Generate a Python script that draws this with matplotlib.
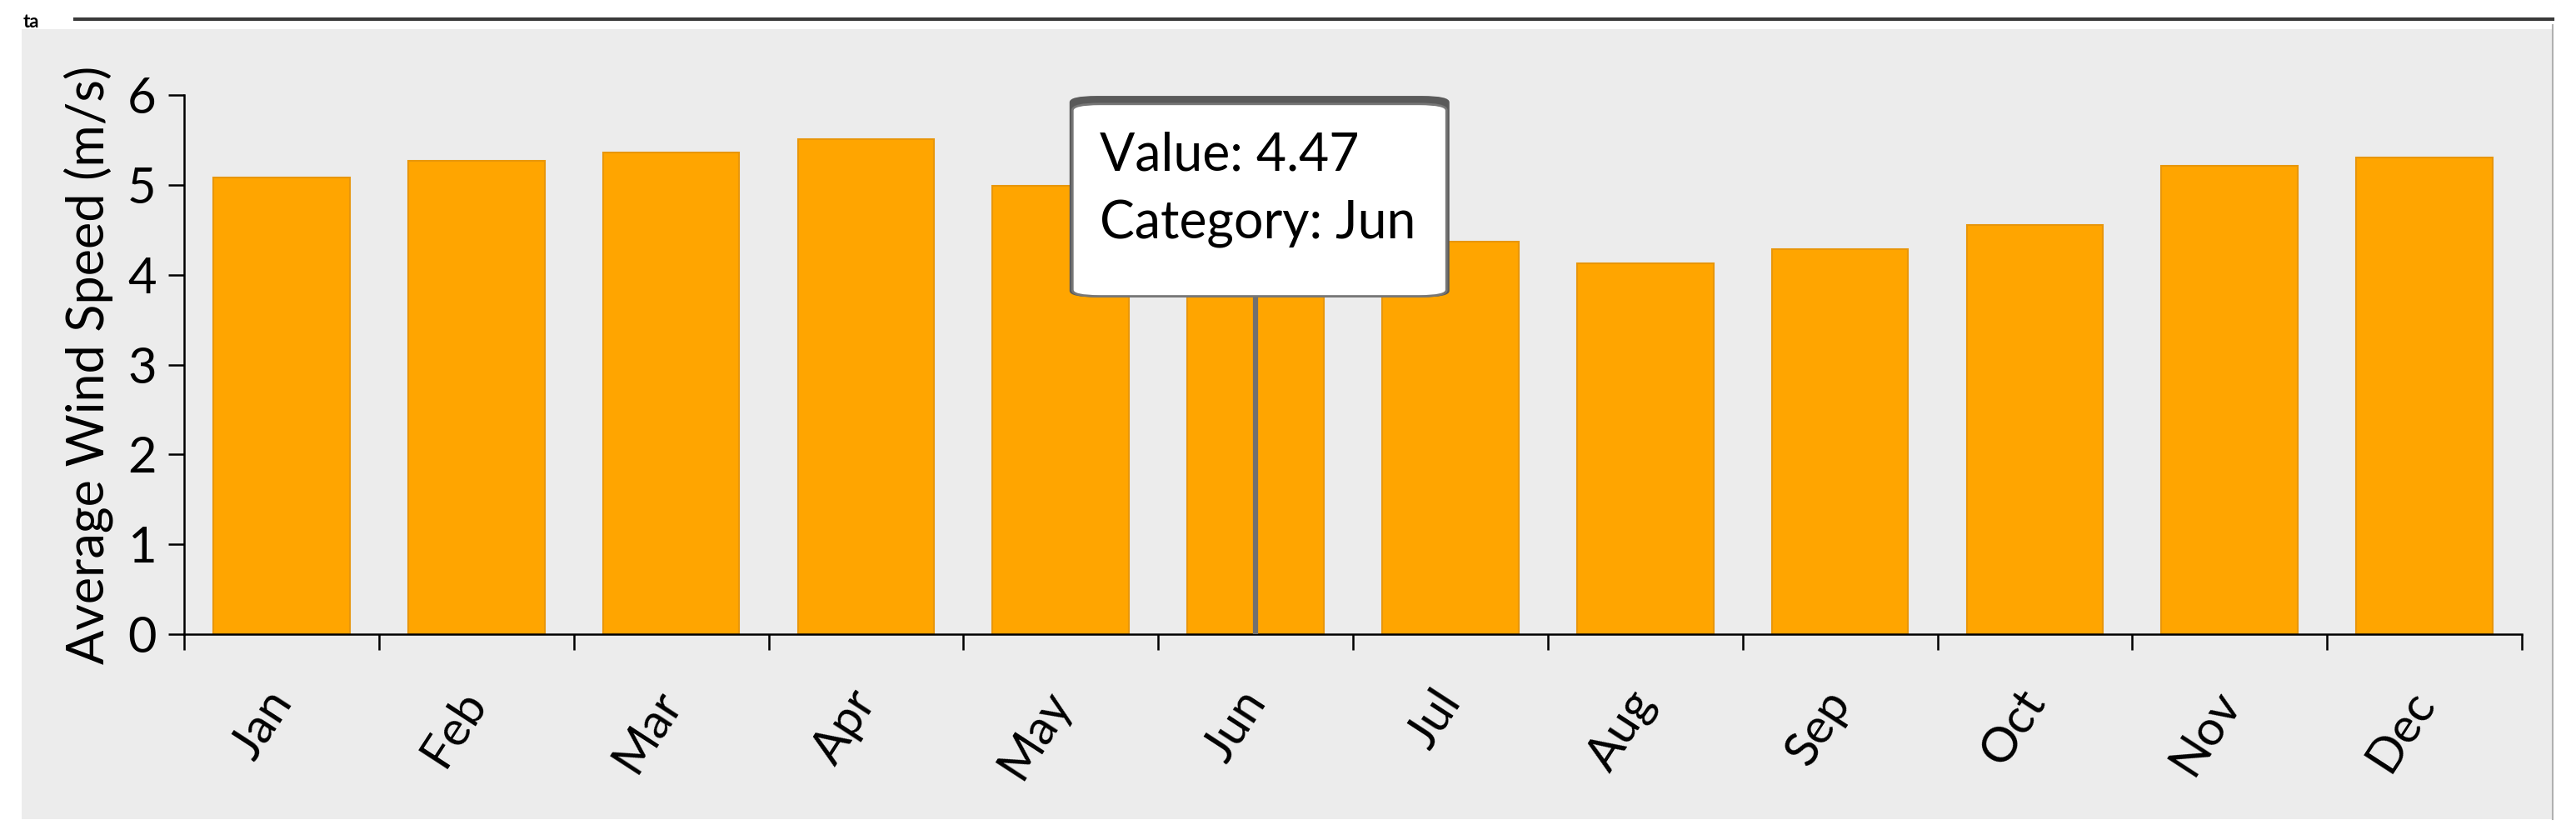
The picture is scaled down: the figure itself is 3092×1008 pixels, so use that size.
import matplotlib.pyplot as plt
from matplotlib.patches import FancyBboxPatch, Rectangle
import numpy as np

# Dados
months = ["Jan", "Feb", "Mar", "Apr", "May", "Jun",
          "Jul", "Aug", "Sep", "Oct", "Nov", "Dec"]
wind_speed = [5.08, 5.27, 5.36, 5.51, 4.99, 4.47,
              4.37, 4.13, 4.28, 4.55, 5.21, 5.30]
y_ticks = [0, 1, 2, 3, 4, 5, 6]
hover_index = 5

plt.rcParams['font.family'] = ['Lato', 'DejaVu Sans']

fig = plt.figure(figsize=(30.92, 10.08), dpi=100)
fig.patch.set_facecolor('white')

# painel cinza de fundo
fig.patches.append(Rectangle((26 / 3092, 1 - 983 / 1008), (3064 - 26) / 3092, (983 - 35) / 1008,
                             transform=fig.transFigure, facecolor='#ececec', edgecolor='none', zorder=-5))
# linha escura no topo
fig.add_artist(plt.Line2D([90 / 3092, 3064 / 3092], [1 - 23 / 1008, 1 - 23 / 1008],
                          transform=fig.transFigure, color='#3a3a3a', lw=3, zorder=-4))
fig.add_artist(plt.Line2D([3064 / 3092, 3064 / 3092], [1 - 30 / 1008, 1 - 983 / 1008],
                          transform=fig.transFigure, color='#b0b0b0', lw=1.5, zorder=-4))
# pedaço do título cortado
fig.text(28 / 3092, 1 - 33 / 1008, "ta", fontsize=16, fontweight='bold', va='baseline', ha='left')

ax = fig.add_axes([221 / 3092, 1 - 761 / 1008, (3027 - 221) / 3092, (761 - 114) / 1008])
ax.set_facecolor('none')

x = np.arange(len(months)) + 0.5
ax.bar(x, wind_speed, width=0.7, color='#ffa500', edgecolor='#e8960a', linewidth=1.5, zorder=2)

ax.set_xlim(0, len(months))
ax.set_ylim(0, 6)

ax.spines['top'].set_visible(False)
ax.spines['right'].set_visible(False)
ax.spines['left'].set_linewidth(1.8)
ax.spines['bottom'].set_linewidth(1.8)

ax.set_yticks(y_ticks)
ax.tick_params(axis='y', labelsize=43, length=14, width=1.8, pad=10)

ax.set_xticks(np.arange(len(months) + 1))
ax.set_xticklabels([])
ax.tick_params(axis='x', which='major', length=14, width=1.8)
ax.set_xticks(x, minor=True)
ax.set_xticklabels(months, minor=True, rotation=57, ha='right', va='center',
                   rotation_mode='anchor', fontsize=42)
ax.tick_params(axis='x', which='minor', length=0, pad=52)

ax.set_ylabel("Average Wind Speed (m/s)", fontsize=44, labelpad=12)

# tooltip
ax.plot([x[hover_index], x[hover_index]], [0, 3.73], color='#707070', lw=4.5, zorder=3)
shadow = FancyBboxPatch((4.545, 3.75), 1.95, 2.24, boxstyle="round,pad=0,rounding_size=0.14",
                        mutation_aspect=0.5, facecolor='#5a5a5a', edgecolor='none',
                        zorder=4, clip_on=False)
ax.add_patch(shadow)
box = FancyBboxPatch((4.56, 3.76), 1.92, 2.14, boxstyle="round,pad=0,rounding_size=0.14",
                     mutation_aspect=0.5, facecolor='white', edgecolor='#777777', linewidth=2,
                     zorder=4.5, clip_on=False)
ax.add_patch(box)
ax.text(4.70, 5.33, f"Value: {wind_speed[hover_index]}", fontsize=45, va='center', ha='left', zorder=5)
ax.text(4.70, 4.56, f"Category: {months[hover_index]}", fontsize=45, va='center', ha='left', zorder=5)

fig.savefig("out.png", dpi=100)
